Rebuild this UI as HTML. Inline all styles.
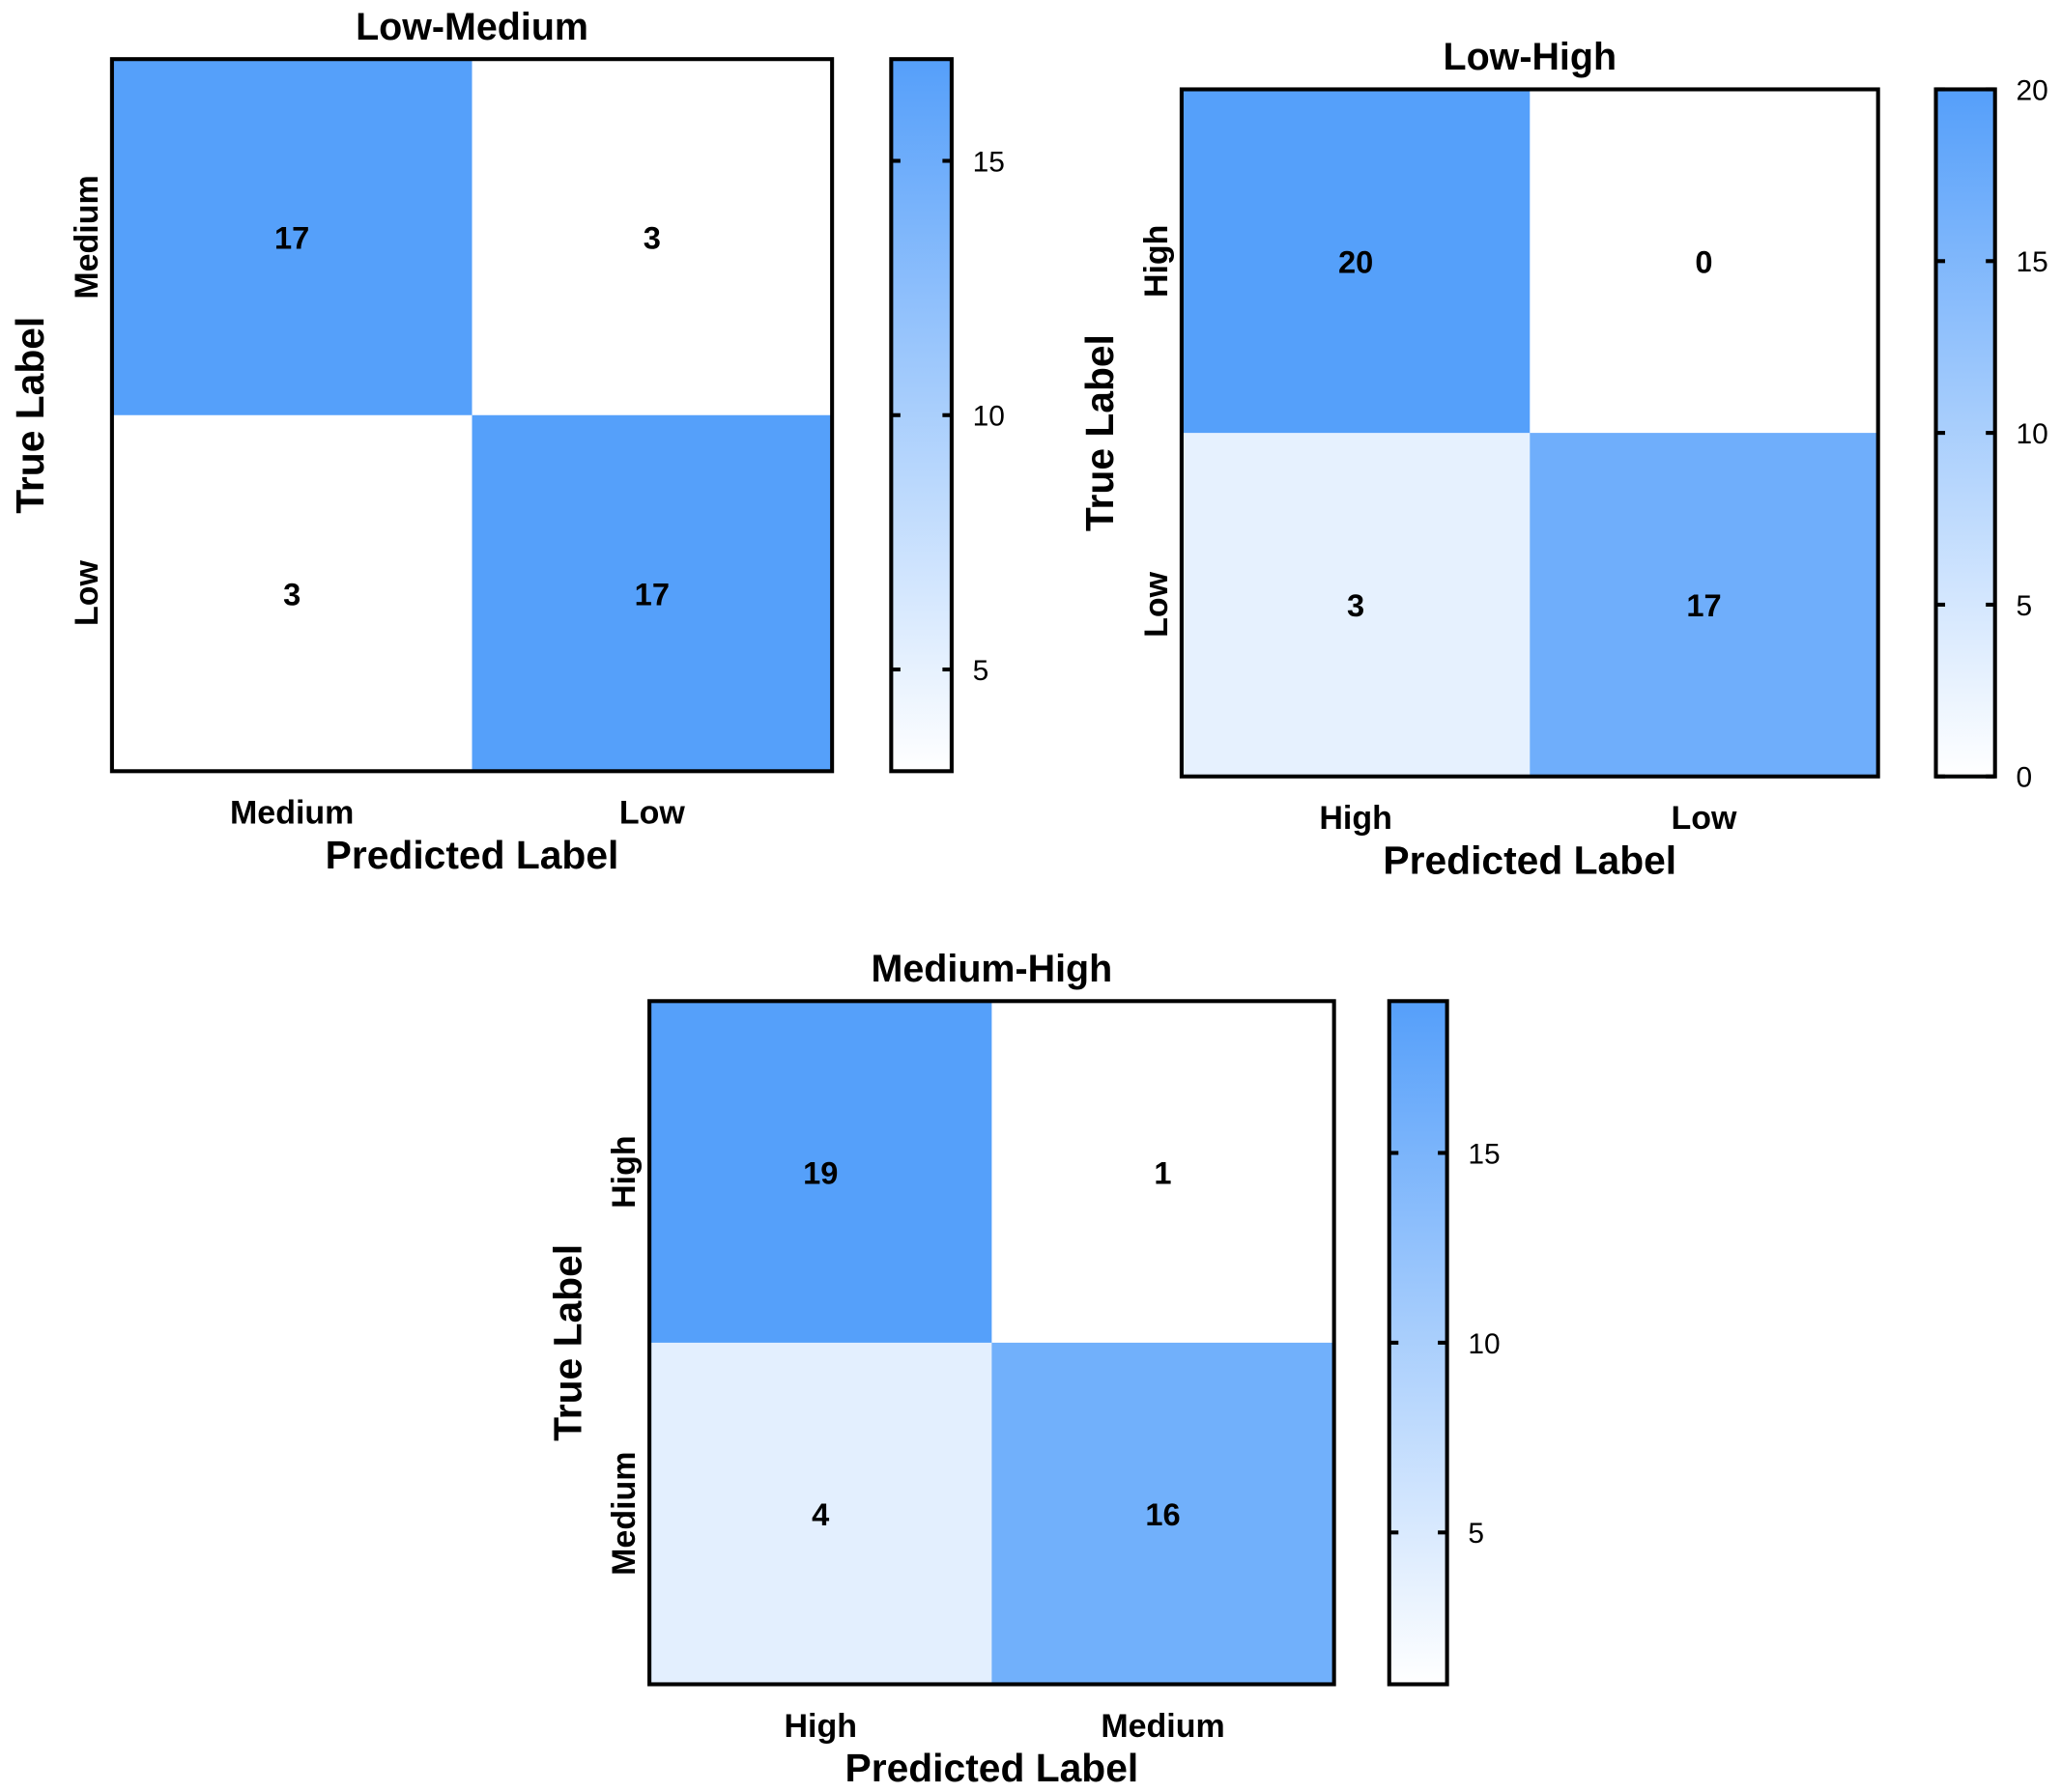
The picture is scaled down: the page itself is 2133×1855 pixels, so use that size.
<!DOCTYPE html>
<html><head><meta charset="utf-8"><style>
html,body{margin:0;padding:0;background:#fff}
svg{display:block}
text{font-family:"Liberation Sans",Arial,sans-serif}
</style></head><body>
<svg id="fig" width="2133" height="1855" viewBox="0 0 1568 1364" xmlns="http://www.w3.org/2000/svg">
<defs>
<linearGradient id="cmap" x1="0" y1="1" x2="0" y2="0">
<stop offset="0" stop-color="#ffffff"/><stop offset="1" stop-color="#559ffa"/>
</linearGradient>
</defs>
</svg>
<script>
const titles = ["Low-Medium","Low-High","Medium-High"];
const labels1 = ["Medium","Low"];
const labels2 = ["High","Low"];
const labels3 = ["High","Medium"];
const values1 = [[17,3],[3,17]];
const values2 = [[20,0],[3,17]];
const values3 = [[19,1],[4,16]];
const ticks1 = [5,10,15];
const ticks2 = [0,5,10,15,20];
const ticks3 = [5,10,15];

const svg = document.getElementById('fig');
const NS = "http://www.w3.org/2000/svg";
function mk(tag, attrs, parent){
  const e = document.createElementNS(NS, tag);
  for (const k in attrs) e.setAttribute(k, attrs[k]);
  (parent||svg).appendChild(e); return e;
}
function col(v, vmin, vmax){
  const t = vmax===vmin?0:(v-vmin)/(vmax-vmin);
  const r = Math.round(255-t*170), g = Math.round(255-t*95), b = Math.round(255-t*5);
  return `rgb(${r},${g},${b})`;
}
function panel(L, title, labels, vals, ticks){
  const g = mk('g', {});
  
  
  const flat = vals.flat();
  const vmin = Math.min(...flat), vmax = Math.max(...flat);
  const n = labels.length;
  const cw = (L.x1-L.x0)/n, ch = (L.y1-L.y0)/n;
  for (let i=0;i<n;i++) for (let j=0;j<n;j++){
    const r = mk('rect', {x:L.x0+j*cw, y:L.y0+i*ch, width:cw+0.5, height:ch+0.5, fill:col(vals[i][j],vmin,vmax)}, g);
    
    
    const t = mk('text', {x:L.x0+(j+0.5)*cw, y:L.y0+(i+0.5)*ch+9, 'text-anchor':'middle', 'font-size':24, 'font-weight':'bold'}, g);
    t.textContent = vals[i][j];
    
    
  }
  const fr = mk('rect', {x:L.x0, y:L.y0, width:L.x1-L.x0, height:L.y1-L.y0, fill:'none', stroke:'#000', 'stroke-width':3}, g);
  
  
  const tt = mk('text', {x:(L.x0+L.x1)/2, y:L.y0-15, 'text-anchor':'middle', 'font-size':29, 'font-weight':'bold'}, g);
  tt.textContent = title;
  
  
  for (let j=0;j<n;j++){
    const t = mk('text', {x:L.x0+(j+0.5)*cw, y:L.y1+40, 'text-anchor':'middle', 'font-size':25, 'font-weight':'bold'}, g);
    t.textContent = labels[j];
    
    
    const cy = L.y0+(j+0.5)*ch;
    const u = mk('text', {x:L.x0-11, y:cy, 'text-anchor':'middle', 'font-size':25, 'font-weight':'bold', transform:`rotate(-90 ${L.x0-11} ${cy})`}, g);
    u.textContent = labels[j];
    
    
  }
  const xl = mk('text', {x:(L.x0+L.x1)/2, y:L.y1+74, 'text-anchor':'middle', 'font-size':30, 'font-weight':'bold'}, g);
  xl.textContent = 'Predicted Label';
  
  
  const ym = (L.y0+L.y1)/2, yx = L.x0-52;
  const yl = mk('text', {x:yx, y:ym, 'text-anchor':'middle', 'font-size':30, 'font-weight':'bold', transform:`rotate(-90 ${yx} ${ym})`}, g);
  yl.textContent = 'True Label';
  
  
  const cb = mk('rect', {x:L.cx, y:L.y0, width:L.cwid, height:L.y1-L.y0, fill:'url(#cmap)', stroke:'#000', 'stroke-width':3}, g);
  
  
  ticks.forEach(tv=>{
    const y = L.y1 - (tv-vmin)/(vmax-vmin)*(L.y1-L.y0);
    mk('line', {x1:L.cx, x2:L.cx+7, y1:y, y2:y, stroke:'#000', 'stroke-width':3}, g);
    mk('line', {x1:L.cx+L.cwid-7, x2:L.cx+L.cwid, y1:y, y2:y, stroke:'#000', 'stroke-width':3}, g);
    const t = mk('text', {x:L.cx+L.cwid+16, y:y+8, 'font-size':22}, g);
    t.textContent = tv;
    
    
  });
}
panel({x0:85,x1:633,y0:45,y1:587,cx:678,cwid:46}, titles[0], labels1, values1, ticks1);
panel({x0:899,x1:1429,y0:68,y1:591,cx:1473,cwid:45}, titles[1], labels2, values2, ticks2);
panel({x0:494,x1:1015,y0:762,y1:1282,cx:1057,cwid:44}, titles[2], labels3, values3, ticks3);
</script>
</body></html>
